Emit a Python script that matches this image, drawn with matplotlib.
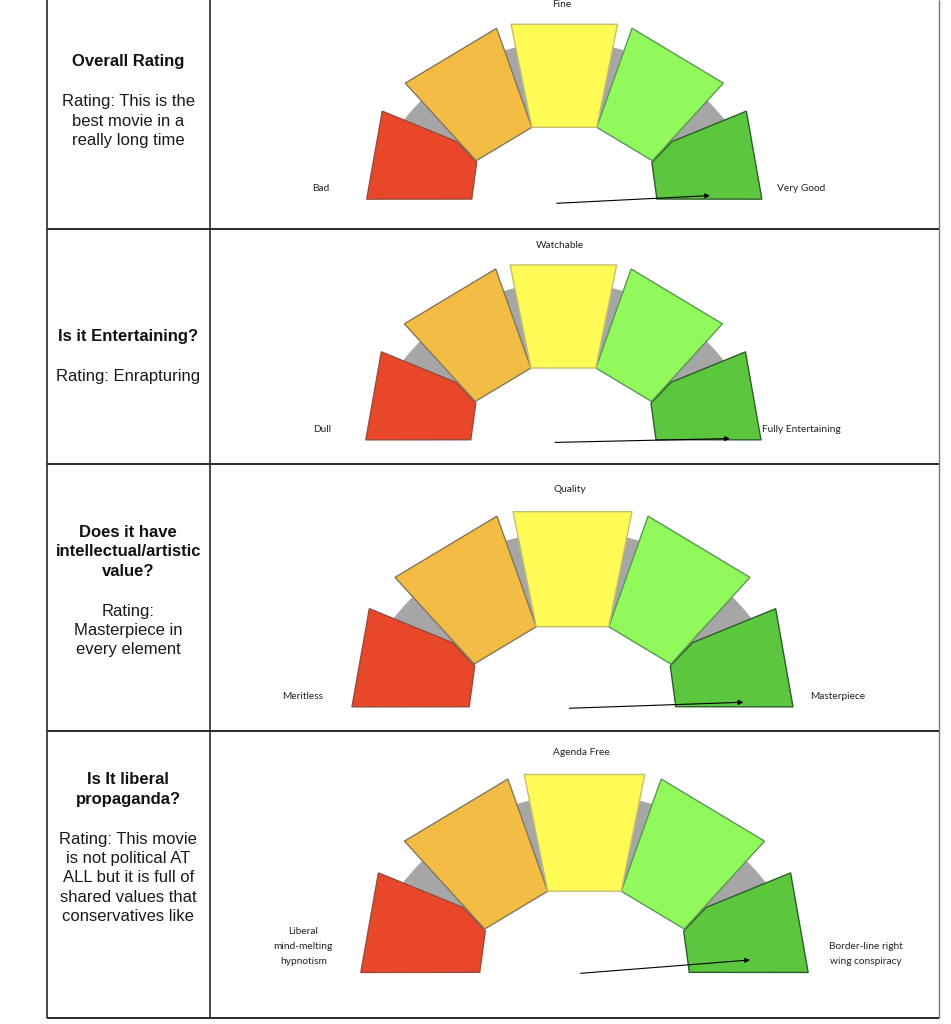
import numpy as np
import matplotlib
matplotlib.use("Agg")
import matplotlib.pyplot as plt
from matplotlib.patches import Polygon

# ---- table content ----
questions = [["Overall Rating"],
             ["Is it Entertaining?"],
             ["Does it have", "intellectual/artistic", "value?"],
             ["Is It liberal", "propaganda?"]]
rating_texts = [["Rating: This is the", "best movie in a", "really long time"],
                ["Rating: Enrapturing"],
                ["Rating:", "Masterpiece in", "every element"],
                ["Rating: This movie", "is not political AT", "ALL but it is full of",
                 "shared values that", "conservatives like"]]
low_labels = ["Bad", "Dull", "Meritless", "Liberal\nmind-melting\nhypnotism"]
mid_labels = ["Fine", "Watchable", "Quality", "Agenda Free"]
high_labels = ["Very Good", "Fully Entertaining", "Masterpiece", "Border-line right\nwing conspiracy"]
# needle position, 0 = far left (worst) .. 100 = far right (best)
ratings = [98.4, 99.3, 98.9, 97.5]

# ---- layout (pixels, y down) ----
col_x = [46.7, 210.0, 939.0]
row_lines = [229.3, 464.3, 730.7, 1018.3]
title_top = [61.7, 336.0, 532.7, 780.0]
line_pitch = 19.3
gauge_cx = [564.3, 563.4, 572.5, 584.5]
gauge_base = [199.0, 439.7, 706.7, 972.3]
gauge_scale = [1.0, 1.0, 1.116, 1.132]
needle_tail = [(-7.6, 4.3), (-8.4, 2.7), (-2.9, 1.4), (-3.4, 0.9)]
needle_len = [153.5, 175.0, 156.0, 150.0]
low_off = [243.5, 241.7, 242.1, 248.4]
high_off = [236.7, 238.0, 237.3, 248.7]

# gauge template: polar (angle deg, radius) around a pivot 45.4 below the baseline
CENTER_DROP = 45.4
fills = ["#E8472A", "#F2BC45", "#FEFB57", "#91F95B", "#5CC63F"]
edges = ["#9A4A3A", "#857855", "#C4BF6E", "#5A9855", "#2C5E28"]
GRAY = "#A6A6A6"


def trapezoid(axis):
    return [(axis + 13.6, 226.5), (axis - 13.6, 226.5),
            (axis - 15.5, 121.5), (axis + 15.5, 121.5)]


red_shape = [(167.1, 202.7), (143.8, 225.6), (136.3, 148.7), (136.9, 120.0), (153.9, 103.1)]
green_shape = [(180 - a, r) for a, r in red_shape]
shapes = [red_shape, trapezoid(121), trapezoid(90), trapezoid(59), green_shape]
draw_order = [0, 4, 1, 3, 2]

W, H = 951, 1024
fig = plt.figure(figsize=(W / 100, H / 100), dpi=100)
ax = fig.add_axes([0, 0, 1, 1])
ax.set_xlim(0, W)
ax.set_ylim(H, 0)
ax.axis("off")

# table grid
for x, c, lw in zip(col_x, ["#2a2a2a", "#2a2a2a", "#777777"], [1.2, 1.2, 1.0]):
    ax.plot([x, x], [0, row_lines[-1]], color=c, lw=lw, solid_capstyle="butt")
for y in row_lines:
    ax.plot([col_x[0], col_x[2]], [y, y], color="#2a2a2a", lw=1.4, solid_capstyle="butt")

text_x = (col_x[0] + col_x[1]) / 2
sans = "Liberation Sans"
small = "Lato"

for i in range(4):
    # left column
    y = title_top[i]
    for line in questions[i]:
        ax.text(text_x, y, line, ha="center", va="center", fontsize=12,
                fontweight="bold", family=sans, color="#111111")
        y += line_pitch
    y += 40 - line_pitch
    for line in rating_texts[i]:
        ax.text(text_x, y, line, ha="center", va="center", fontsize=12,
                family=sans, color="#1a1a1a")
        y += line_pitch

    # gauge
    cx, base, s = gauge_cx[i], gauge_base[i], gauge_scale[i]
    cy = base + s * CENTER_DROP

    def pt(ang, r):
        a = np.radians(ang)
        return cx + s * r * np.cos(a), cy - s * r * np.sin(a)

    th = np.linspace(26, 154, 80)
    ring = [pt(t, 203) for t in th] + [pt(t, 126) for t in th[::-1]]
    ax.add_patch(Polygon(ring, closed=True, facecolor=GRAY, edgecolor="none"))

    for k in draw_order:
        poly = [pt(a, r) for a, r in shapes[k]]
        ax.add_patch(Polygon(poly, closed=True, facecolor=fills[k],
                             edgecolor=edges[k], lw=1.0, joinstyle="miter"))

    # needle
    ang = np.radians(180 * (1 - ratings[i] / 100))
    tx = cx + s * needle_tail[i][0]
    ty = base + s * needle_tail[i][1]
    hx = tx + s * needle_len[i] * np.cos(ang)
    hy = ty - s * needle_len[i] * np.sin(ang)
    ax.annotate("", xy=(hx, hy), xytext=(tx, ty),
                arrowprops=dict(arrowstyle="-|>", color="black", lw=0.8,
                                mutation_scale=7, shrinkA=0, shrinkB=0))

    # gauge labels
    mx, my = pt(90, 240)
    ax.text(mx - 3, my, mid_labels[i], ha="center", va="center",
            fontsize=7.3, family=small, color="#222222")
    for lab, off in [(low_labels[i], -low_off[i]), (high_labels[i], high_off[i])]:
        lines = lab.split("\n")
        ly = base - 10.5 - 15.2 * (len(lines) - 1)
        for line in lines:
            ax.text(cx + s * off, ly, line, ha="center", va="center",
                    fontsize=7.3, family=small, color="#222222")
            ly += 15.2

fig.savefig("out.png", dpi=100, facecolor="white")
